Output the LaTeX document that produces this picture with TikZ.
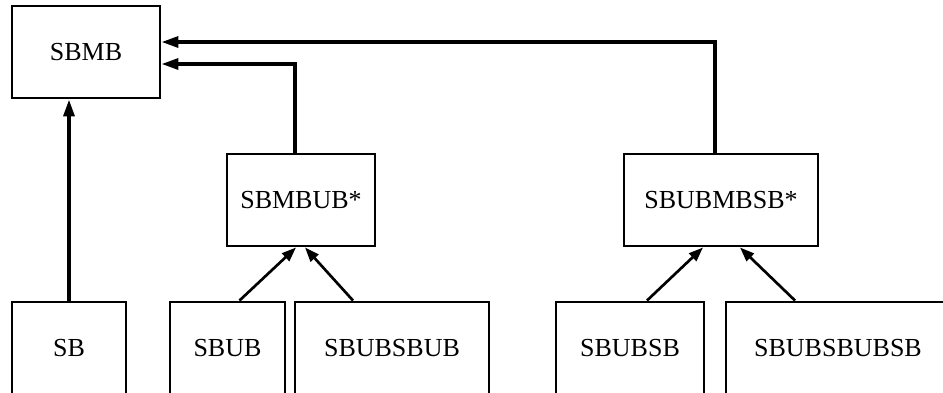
\documentclass[tikz,border=0pt]{standalone}
\usepackage{fontspec}
\setmainfont{Liberation Serif}
\usetikzlibrary{arrows.meta}

\begin{document}
\begin{tikzpicture}[
    % Estilos de los módulos y de las conexiones
    mod/.style={draw=black, line width=2.1pt, fill=white, text=black, font=\fontsize{18.5}{22}\selectfont, minimum height=2.3cm, inner sep=0pt},
    link/.style={line width=2.5pt, -{Triangle[length=0.42cm, width=0.27cm]}},
    diag/.style={line width=1.9pt, -{Triangle[length=0.36cm, width=0.26cm]}}
]
\useasboundingbox (0, 0) rectangle (23.575, -9.8);

% ---------------------------------------------------------
% 1. MÓDULOS (Nodos)
% ---------------------------------------------------------
% Nivel superior
\node[mod, minimum width=3.7cm] (sbmb) at (2.15, -1.3) {SBMB};

% Nivel intermedio
\node[mod, minimum width=3.7cm] (mbub) at (7.525, -5.0) {SBMBUB*};
\node[mod, minimum width=4.85cm] (ubmbsb) at (18.025, -5.0) {SBUBMBSB*};

% Nivel inferior
\node[mod, minimum width=2.85cm] (sb) at (1.725, -8.7) {SB};
\node[mod, minimum width=2.875cm] (sbub) at (5.6875, -8.7) {SBUB};
\node[mod, minimum width=4.85cm] (ubsbub) at (9.8, -8.7) {SBUBSBUB};
\node[mod, minimum width=3.7cm] (ubsb) at (15.75, -8.7) {SBUBSB};
\node[mod, minimum width=5.6cm] (ubsbubsb) at (20.95, -8.7) {SBUBSBUBSB};

% ---------------------------------------------------------
% 2. CONEXIONES
% ---------------------------------------------------------
% Hacia SBMB
\draw[link] (sb.north) -- (sb.north |- sbmb.south);
\draw[link] ([xshift=-0.15cm]mbub.north) |- ([yshift=-0.3cm]sbmb.east);
\draw[link] ([xshift=-0.15cm]ubmbsb.north) |- ([yshift=0.25cm]sbmb.east);

% Hacia SBMBUB*
\draw[diag] ([xshift=0.3cm]sbub.north) -- ([xshift=-0.125cm]mbub.south);
\draw[diag] ([xshift=-0.975cm]ubsbub.north) -- ([xshift=0.1cm]mbub.south);

% Hacia SBUBMBSB*
\draw[diag] ([xshift=0.425cm]ubsb.north) -- ([xshift=-0.45cm]ubmbsb.south);
\draw[diag] ([xshift=-1.075cm]ubsbubsb.north) -- ([xshift=0.475cm]ubmbsb.south);

\end{tikzpicture}
\end{document}
